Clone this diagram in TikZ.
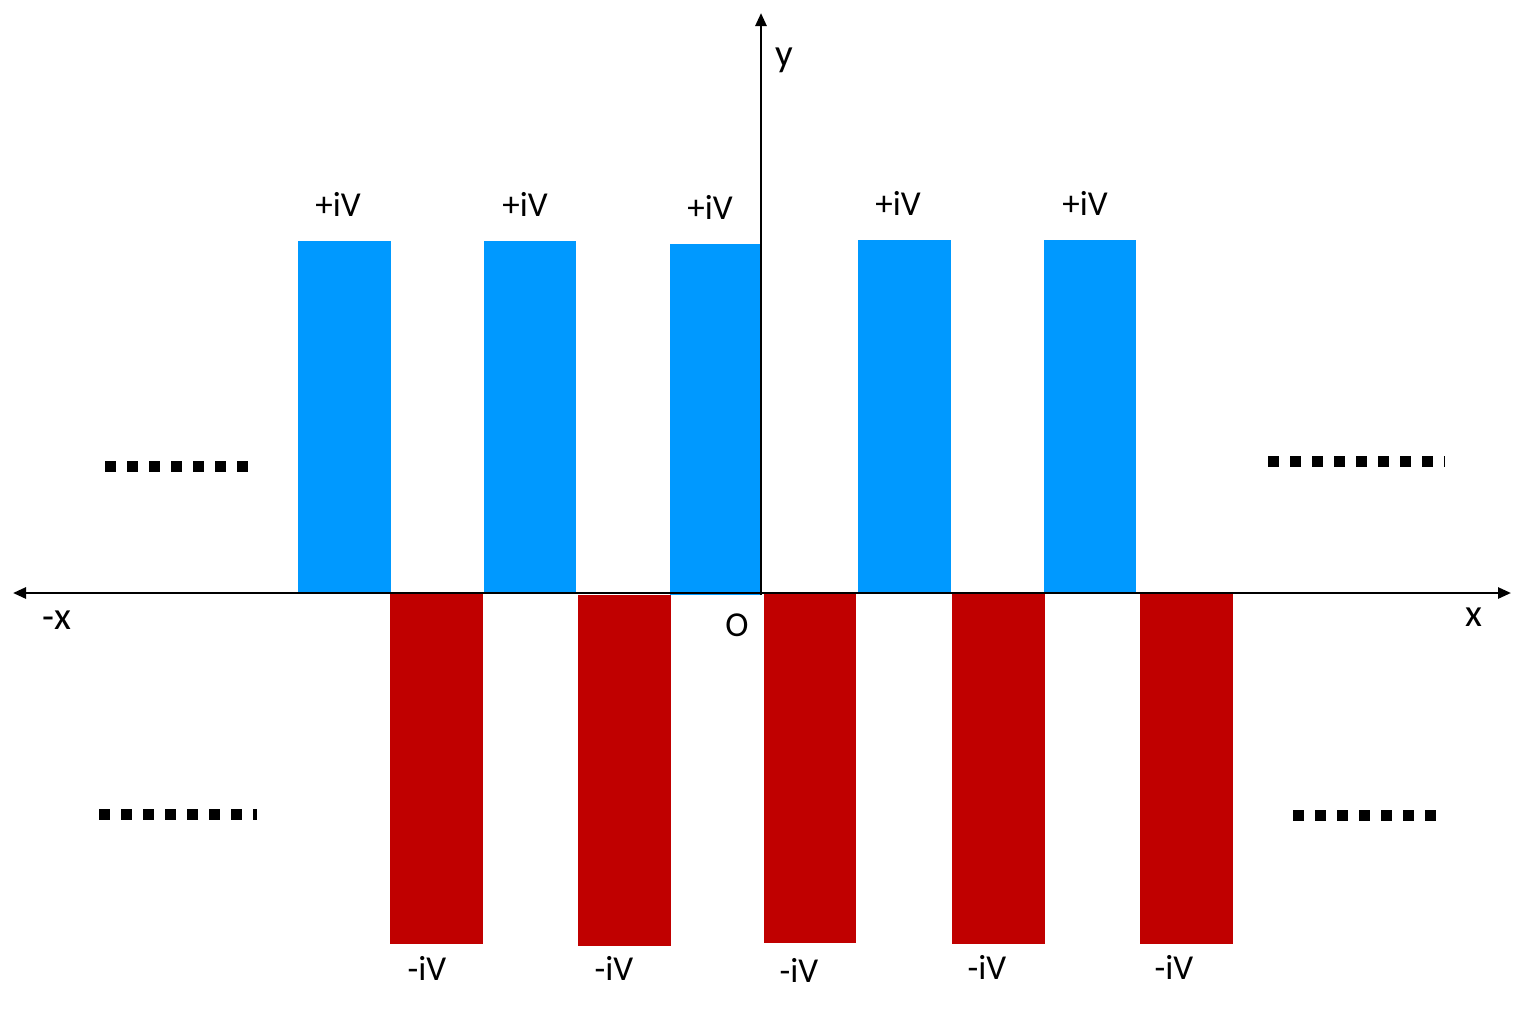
\documentclass[tikz,border=0pt]{standalone}
\usepackage{fontspec}
\setmainfont{Carlito}
\usetikzlibrary{arrows.meta}
\definecolor{barblue}{RGB}{0,153,255}
\definecolor{barred}{RGB}{192,0,0}
\tikzset{
  axis/.style={line width=2.6pt, -{Triangle[length=13pt,width=11pt]}},
  posbar/.style={fill=barblue, draw=none},
  negbar/.style={fill=barred, draw=none},
  lbl/.style={font=\fontsize{35}{40}\selectfont, inner sep=0pt, anchor=center},
  axlbl/.style={font=\fontsize{39}{44}\selectfont, inner sep=0pt, anchor=center},
  dots/.style={line width=11pt, dash pattern=on 11pt off 11pt, black}
}
\begin{document}
\begin{tikzpicture}[x=1pt,y=-1pt]
\useasboundingbox (0,0) rectangle (1524,1015);
% bars
\fill[posbar] (298,241) rectangle (391,593);
\fill[posbar] (484,241) rectangle (576,593);
\fill[posbar] (670,244) rectangle (761,595);
\fill[posbar] (858,240) rectangle (951,593);
\fill[posbar] (1044,240) rectangle (1136,593);
\fill[negbar] (390,593) rectangle (483,944);
\fill[negbar] (578,595) rectangle (671,946);
\fill[negbar] (764,593) rectangle (856,943);
\fill[negbar] (952,593) rectangle (1045,944);
\fill[negbar] (1140,593) rectangle (1233,944);
% axes
\coordinate (O) at (761,593);
\coordinate (xl) at (13,593);
\coordinate (xr) at (1511,593);
\coordinate (yt) at (761,13);
\draw[axis] (O) -- (xr);
\draw[axis] (O) -- (xl);
\draw[axis] (761,595) -- (yt);
% dotted continuation marks
\coordinate (d1a) at (105,466); \coordinate (d1b) at (248,466);
\coordinate (d2a) at (1268,461); \coordinate (d2b) at (1445,461);
\coordinate (d3a) at (99,814); \coordinate (d3b) at (257,814);
\coordinate (d4a) at (1293,815); \coordinate (d4b) at (1437,815);
\draw[dots] (d1a) -- (d1b);
\draw[dots] (d2a) -- (d2b);
\draw[dots] (d3a) -- (d3b);
\draw[dots] (d4a) -- (d4b);
% labels
\node[lbl] (p1) at (338,204) {+iV};
\node[lbl] (p2) at (525,204) {+iV};
\node[lbl] (p3) at (710,207) {+iV};
\node[lbl] (p4) at (898,203) {+iV};
\node[lbl] (p5) at (1085,203) {+iV};
\node[lbl] (n1) at (427,968) {-iV};
\node[lbl] (n2) at (614,968) {-iV};
\node[lbl] (n3) at (799,970) {-iV};
\node[lbl] (n4) at (987,967) {-iV};
\node[lbl] (n5) at (1174,967) {-iV};
\node[axlbl] (lx) at (1474,617) {x};
\node[axlbl] (lmx) at (57,620) {-x};
\node[axlbl] (ly) at (784,60) {y};
\node[lbl] (lO) at (737,625) {O};
\end{tikzpicture}
\end{document}
